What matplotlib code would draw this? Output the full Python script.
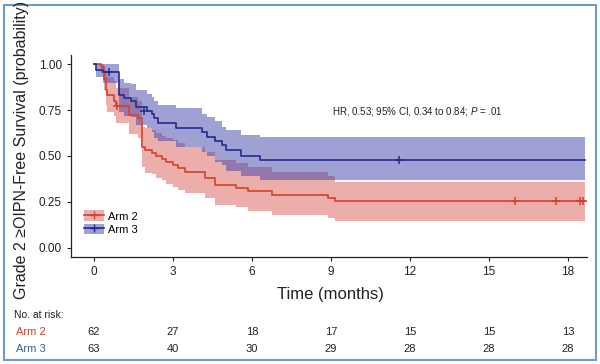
import matplotlib
matplotlib.use("Agg")
import matplotlib.pyplot as plt
from matplotlib.patches import Patch, Rectangle
from matplotlib.lines import Line2D

# Kaplan-Meier steps (months, probability)
t_arm2 = [0, 0.27, 0.40, 0.45, 0.50, 0.78, 0.84, 1.35, 1.67, 1.81, 1.95, 2.19, 2.35, 2.6, 2.75,
          3.0, 3.2, 3.45, 4.2, 4.6, 5.4, 5.85, 6.75, 8.9, 9.15, 18.65]
s_arm2 = [1.0, 0.985, 0.92, 0.86, 0.83, 0.80, 0.77, 0.725, 0.705, 0.55, 0.53, 0.515, 0.50, 0.485, 0.47,
          0.45, 0.435, 0.415, 0.38, 0.34, 0.325, 0.31, 0.287, 0.27, 0.255, 0.255]
hi_arm2 = [1.0, 1.0, 0.97, 0.95, 0.93, 0.91, 0.87, 0.82, 0.80, 0.66, 0.65, 0.64, 0.625, 0.61, 0.60,
           0.585, 0.57, 0.55, 0.52, 0.48, 0.46, 0.44, 0.415, 0.39, 0.36, 0.36]
lo_arm2 = [1.0, 0.95, 0.86, 0.78, 0.74, 0.72, 0.68, 0.62, 0.60, 0.44, 0.41, 0.40, 0.38, 0.37, 0.35,
           0.33, 0.315, 0.30, 0.27, 0.235, 0.22, 0.20, 0.18, 0.165, 0.145, 0.145]
cens_t_arm2 = [0.87, 16.0, 17.55, 18.45, 18.57]
cens_s_arm2 = [0.77, 0.255, 0.255, 0.255, 0.255]

t_arm3 = [0, 0.08, 0.35, 0.97, 1.16, 1.4, 1.6, 2.0, 2.2, 2.3, 2.45, 3.1, 4.1, 4.3, 4.6, 4.85,
          5.0, 5.6, 6.3, 18.65]
s_arm3 = [1.0, 0.97, 0.955, 0.83, 0.815, 0.80, 0.765, 0.745, 0.73, 0.705, 0.68, 0.65, 0.63, 0.605,
          0.58, 0.56, 0.53, 0.50, 0.48, 0.48]
hi_arm3 = [1.0, 1.0, 1.0, 0.92, 0.90, 0.89, 0.86, 0.84, 0.82, 0.80, 0.78, 0.76, 0.73, 0.715, 0.69,
           0.66, 0.64, 0.615, 0.605, 0.605]
lo_arm3 = [1.0, 0.93, 0.90, 0.74, 0.72, 0.71, 0.67, 0.65, 0.63, 0.60, 0.58, 0.55, 0.52, 0.50, 0.47,
           0.45, 0.42, 0.39, 0.37, 0.37]
cens_t_arm3 = [0.56, 1.92, 11.6]
cens_s_arm3 = [0.955, 0.745, 0.48]

risk_times = [0, 3, 6, 9, 12, 15, 18]
risk_arm2 = [62, 27, 18, 17, 15, 15, 13]
risk_arm3 = [63, 40, 30, 29, 28, 28, 28]

red_line = "#d6402a"
red_fill = "#d44d45"
blue_line = "#262a8c"
blue_fill = "#4044ab"

plt.rcParams["font.family"] = ["Liberation Sans", "DejaVu Sans"]
plt.rcParams["mathtext.fontset"] = "custom"
plt.rcParams["mathtext.it"] = "Liberation Sans:italic"
plt.rcParams["mathtext.rm"] = "Liberation Sans"

fig = plt.figure(figsize=(6, 3.64), dpi=100)
ax = fig.add_axes([71 / 600, 1 - 257 / 364, (587 - 71) / 600, (257 - 55) / 364])

ax.fill_between(t_arm2, lo_arm2, hi_arm2, step="post", color=red_fill, alpha=0.45, lw=0)
ax.fill_between(t_arm3, lo_arm3, hi_arm3, step="post", color=blue_fill, alpha=0.5, lw=0)
ax.step(t_arm2, s_arm2, where="post", color=red_line, lw=1.2)
ax.step(t_arm3, s_arm3, where="post", color=blue_line, lw=1.2)
ax.plot(cens_t_arm2, cens_s_arm2, "+", color=red_line, ms=6, mew=1.1)
ax.plot(cens_t_arm3, cens_s_arm3, "+", color=blue_line, ms=6, mew=1.1)

ax.set_xlim(-0.87, 18.72)
ax.set_ylim(-0.05, 1.05)
ax.set_xticks(risk_times)
ax.set_yticks([0, 0.25, 0.5, 0.75, 1.0])
ax.set_yticklabels(["0.00", "0.25", "0.50", "0.75", "1.00"])
ax.tick_params(labelsize=8.5, length=3, width=0.8, colors="#222222")
for s in ["top", "right"]:
    ax.spines[s].set_visible(False)
for s in ["left", "bottom"]:
    ax.spines[s].set_linewidth(0.9)
    ax.spines[s].set_color("#222222")

ax.text(12.3, 0.745, r"HR, 0.53; 95% CI, 0.34 to 0.84; $\it{P}$ = .01", fontsize=7,
        ha="center", va="center", color="#222222")

h2 = (Patch(facecolor=red_fill, alpha=0.45, lw=0), Line2D([], [], color=red_line, marker="+", lw=1.2, ms=6))
h3 = (Patch(facecolor=blue_fill, alpha=0.5, lw=0), Line2D([], [], color=blue_line, marker="+", lw=1.2, ms=6))
ax.legend([h2, h3], ["Arm 2", "Arm 3"], loc="lower left", bbox_to_anchor=(0.005, 0.06),
          frameon=False, fontsize=8, handlelength=1.8, handleheight=1.1, handletextpad=0.4,
          labelspacing=0.2)

fig.text(22 / 600, 1 - 150 / 364, "Grade 2 \u2265OIPN-Free Survival (probability)", rotation=90,
         ha="center", va="center", fontsize=11.5, color="#222222")
fig.text(330 / 600, 1 - 295 / 364, "Time (months)", ha="center", va="center", fontsize=12,
         color="#222222")

# number at risk table
fig.text(14 / 600, 1 - 315 / 364, "No. at risk:", ha="left", va="center", fontsize=7.5, color="#222222")
fig.text(16 / 600, 1 - 332 / 364, "Arm 2", ha="left", va="center", fontsize=8, color="#c8432a")
fig.text(16 / 600, 1 - 349 / 364, "Arm 3", ha="left", va="center", fontsize=8, color="#3d5aa8")
for tt, n2, n3 in zip(risk_times, risk_arm2, risk_arm3):
    xf = ax.transData.transform((tt, 0))[0] / fig.bbox.width
    fig.text(xf, 1 - 332 / 364, str(n2), ha="center", va="center", fontsize=8, color="#222222")
    fig.text(xf, 1 - 349 / 364, str(n3), ha="center", va="center", fontsize=8, color="#222222")

# light blue frame round the figure
fig.patches.append(Rectangle((4 / 600, 1 - 360 / 364), 592 / 600, 355 / 364, transform=fig.transFigure,
                             fill=False, edgecolor="#6b9bcc", lw=1.5))

fig.savefig("out.png", dpi=100)
